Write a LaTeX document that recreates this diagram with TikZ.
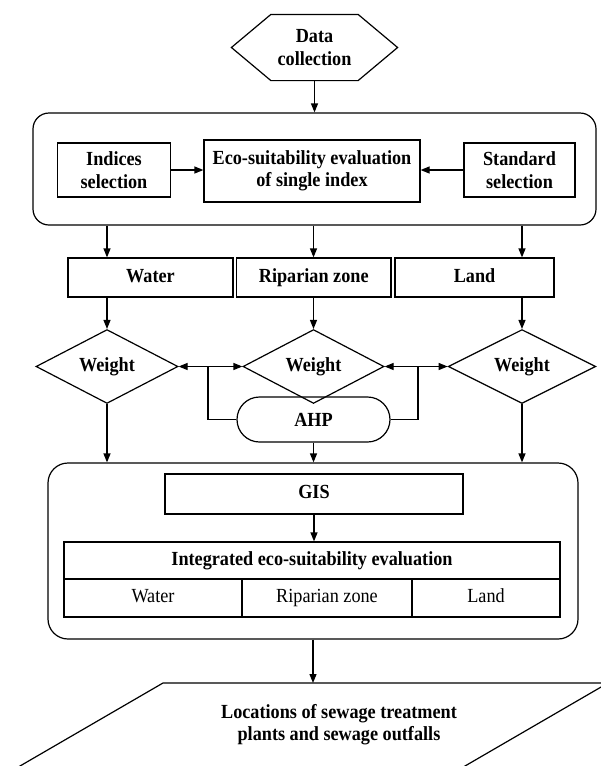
\documentclass[tikz,border=0pt]{standalone}
\usepackage{fontspec}
\setmainfont[FakeStretch=0.91]{Liberation Serif}
\usetikzlibrary{arrows.meta,positioning,calc,shapes.geometric,shapes.misc}

\begin{document}
\begin{tikzpicture}[
    x=1pt, y=-1pt,
    line width=1.2pt,
    font=\fontsize{20}{22.5}\selectfont\bfseries,
    nosep/.style={inner sep=0},
    box/.style={draw, rectangle, nosep, align=center},
    oneline/.style={text height=13pt, text depth=4pt},
    frame/.style={draw, rectangle, nosep, rounded corners=16pt},
    weight/.style={draw, diamond, nosep, minimum width=142pt, minimum height=59pt},
    cell/.style={box, oneline, minimum height=38pt, font=\fontsize{20}{22.5}\selectfont\mdseries},
    arr/.style={-{Triangle[length=9pt,width=7pt]}}]
\useasboundingbox (0,0) rectangle (601,766);
\clip (0,0) rectangle (601,766);

\node[nosep, minimum width=165pt, minimum height=65pt, align=center] (data) at (314.5,47.5) {Data\\collection};
\draw (data.west) -- ([xshift=39.5pt]data.north west) -- ([xshift=-39.5pt]data.north east)
  -- (data.east) -- ([xshift=-39.5pt]data.south east) -- ([xshift=39.5pt]data.south west) -- cycle;

\node[frame, minimum width=563pt, minimum height=112pt] (stage) at (314.5,169) {};
\node[box, minimum width=113pt, minimum height=54pt] (indices) at (114,170) {Indices\\selection};
\node[box, minimum width=216pt, minimum height=62pt] (single) at (312,171) {Eco-suitability evaluation\\of single index};
\node[box, minimum width=111pt, minimum height=54pt] (standard) at (519.5,170) {Standard\\selection};

\node[box, oneline, minimum width=165pt, minimum height=39pt] (water) at (150.5,277.5) {Water};
\node[box, oneline, minimum width=154.5pt, minimum height=39pt] (riparian) at (313.75,277.5) {Riparian zone};
\node[box, oneline, minimum width=159pt, minimum height=39pt] (land) at (474.5,277.5) {Land};

\node[weight] (wwater) at (107,366.5) {Weight};
\node[weight, minimum width=141pt] (wripa) at (313.5,366.5) {Weight};
\node[weight, minimum width=147.5pt] (wland) at (522,366.5) {Weight};
\node[draw, rounded rectangle, nosep, minimum width=153pt, minimum height=45pt] (ahp) at (313.5,419.5) {AHP};
\coordinate (jl) at (208,366.5);
\coordinate (jr) at (418,366.5);

\node[frame, rounded corners=20pt, minimum width=530pt, minimum height=176pt] (gisframe) at (313,551) {};
\node[box, oneline, minimum width=298pt, minimum height=40pt] (gis) at (314,494) {GIS};
\node[box, oneline, minimum width=496pt, minimum height=37pt] (integrated) at (312,560.5) {Integrated eco-suitability evaluation};
\node[cell, minimum width=178pt] (cwater) at (153,598) {Water};
\node[cell, minimum width=170pt] (cripa) at (327,598) {Riparian zone};
\node[cell, minimum width=148pt] (cland) at (486,598) {Land};

\coordinate (ptl) at (163,683);
\coordinate (ptr) at (608,683);
\draw (4.5,775) -- (ptl) -- (ptr) -- (449.5,775);
\node[align=center] (sites) at (339,724.5) {Locations of sewage treatment\\plants and sewage outfalls};

\draw[arr] (data.south) -- (data.south |- stage.north);
\draw[arr] (indices.east) -- (indices.east -| single.west);
\draw[arr] (standard.west) -- (standard.west -| single.east);
\draw[arr] (stage.south -| wwater) -- (water.north -| wwater);
\draw[arr] (stage.south -| wripa) -- (riparian.north -| wripa);
\draw[arr] (stage.south -| wland) -- (land.north -| wland);
\draw[arr] (water.south -| wwater) -- (wwater.north);
\draw[arr] (riparian.south -| wripa) -- (wripa.north);
\draw[arr] (land.south -| wland) -- (wland.north);
\draw (ahp.west) -| (jl);
\draw (ahp.east) -| (jr);
\draw[arr] (jl) -- (wwater.east);
\draw[arr] (jl) -- (wripa.west);
\draw[arr] (jr) -- (wripa.east);
\draw[arr] (jr) -- (wland.west);
\draw[arr] (wwater.south) -- (wwater.south |- gisframe.north);
\draw[arr] (ahp.south) -- (ahp.south |- gisframe.north);
\draw[arr] (wland.south) -- (wland.south |- gisframe.north);
\draw[arr] (gis.south) -- (gis.south |- integrated.north);
\draw[arr] (gisframe.south) -- (gisframe.south |- ptl);

\end{tikzpicture}
\end{document}
